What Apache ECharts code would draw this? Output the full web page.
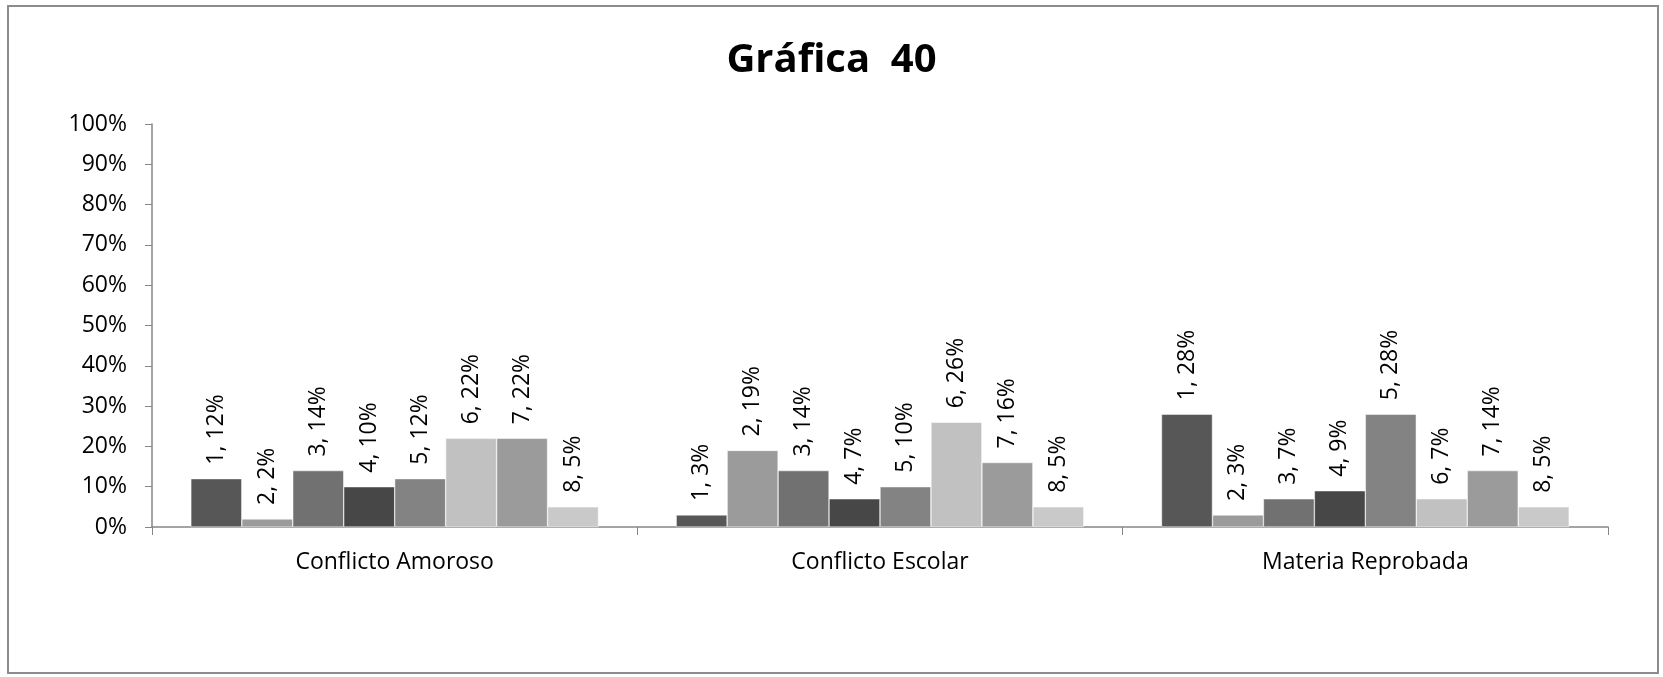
<!DOCTYPE html>
<html>
<head>
<meta charset="utf-8">
<script src="https://cdn.jsdelivr.net/npm/echarts@6/dist/echarts.min.js"></script>
<style>
html,body{margin:0;padding:0;background:#fff;}
#frame{position:absolute;left:7px;top:5px;width:1652px;height:669px;border:2px solid #8c8c8c;box-sizing:border-box;}
#chart{position:absolute;left:0;top:0;width:1663px;height:677px;}
</style>
</head>
<body>
<div id="frame"></div>
<div id="chart"></div>
<script>
const categories = ['Conflicto Amoroso', 'Conflicto Escolar', 'Materia Reprobada'];
const seriesNames = ['1', '2', '3', '4', '5', '6', '7', '8'];
const s1 = [12, 3, 28];
const s2 = [2, 19, 3];
const s3 = [14, 14, 7];
const s4 = [10, 7, 9];
const s5 = [12, 10, 28];
const s6 = [22, 26, 7];
const s7 = [22, 16, 14];
const s8 = [5, 5, 5];
const yTicks = [0, 10, 20, 30, 40, 50, 60, 70, 80, 90, 100];
const allValues = [s1, s2, s3, s4, s5, s6, s7, s8];
const colors = ['#575757', '#9b9b9b', '#717171', '#474747', '#838383', '#c1c1c1', '#9b9b9b', '#c9c9c9'];
const FONT = '"Open Sans", "Noto Sans", sans-serif';

const chart = echarts.init(document.getElementById('chart'));
chart.setOption({
  animation: false,
  backgroundColor: 'transparent',
  title: {
    text: 'Gráfica  40',
    left: 'center',
    top: 36,
    textStyle: { fontFamily: FONT, fontWeight: 'bold', fontSize: 40, color: '#000' }
  },
  grid: { left: 152, right: 55, top: 124, bottom: 150, containLabel: false },
  xAxis: {
    type: 'category',
    data: categories,
    axisLine: { lineStyle: { color: '#868686', width: 1.5 } },
    axisTick: { show: true, length: 8, lineStyle: { color: '#868686' } },
    axisLabel: { fontFamily: FONT, fontSize: 23, color: '#000', margin: 24 }
  },
  yAxis: {
    type: 'value',
    min: yTicks[0],
    max: yTicks[yTicks.length - 1],
    interval: 10,
    splitLine: { show: false },
    axisLine: { show: true, lineStyle: { color: '#868686', width: 1.5 } },
    axisTick: { show: true, length: 7, lineStyle: { color: '#868686' } },
    axisLabel: { fontFamily: FONT, fontSize: 23, color: '#000', margin: 25, formatter: '{value}%' }
  },
  series: seriesNames.map((name, i) => ({
    name: name,
    type: 'bar',
    data: allValues[i],
    barGap: '0%',
    barCategoryGap: '16%',
    itemStyle: { color: colors[i], borderColor: '#ffffff', borderWidth: 0.5 },
    label: {
      show: true,
      position: 'top',
      rotate: 90,
      align: 'left',
      verticalAlign: 'middle',
      distance: 14,
      fontFamily: FONT,
      fontSize: 23,
      color: '#000',
      formatter: '{a}, {c}%'
    }
  }))
});
</script>
</body>
</html>
